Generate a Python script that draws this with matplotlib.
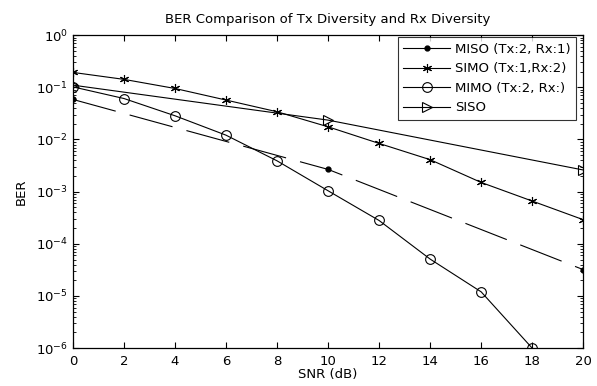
import numpy as np
import matplotlib
matplotlib.use('Agg')
import matplotlib.pyplot as plt
from matplotlib.lines import Line2D
from matplotlib.ticker import LogLocator, NullFormatter

plt.rcParams['font.family'] = ['DejaVu Sans']
plt.rcParams['mathtext.fontset'] = 'dejavusans'
plt.rcParams['mathtext.default'] = 'regular'

# values
snr = [0, 2, 4, 6, 8, 10, 12, 14, 16, 18, 20]
snr_miso = [0, 10, 20]
ber_miso = [0.0586, 0.00267, 3.2e-5]
ber_simo = [0.193, 0.142, 0.095, 0.057, 0.034, 0.0175, 0.0084, 0.0041, 0.0015, 6.6e-4, 2.9e-4]
snr_mimo = [0, 2, 4, 6, 8, 10, 12, 14, 16, 18]
ber_mimo = [0.102, 0.061, 0.0285, 0.0121, 0.0039, 0.00104, 2.8e-4, 5.1e-5, 1.2e-5, 1e-6]
snr_siso = [0, 10, 20]
ber_siso = [0.11, 0.0235, 0.0026]

fs = 9.5
fig = plt.figure(figsize=(5.97, 3.86), dpi=100)
ax = fig.add_axes([0.122, 0.098, 0.855, 0.811])

lw = 0.8
ax.semilogy(snr_miso, ber_miso, color='k', lw=lw, linestyle=(0, (40, 13)),
            marker='o', markersize=3.5, markerfacecolor='k')
ax.semilogy(snr, ber_simo, color='k', lw=lw, marker=(6, 2, 0), markersize=6.5,
            markeredgewidth=0.8, label='SIMO (Tx:1,Rx:2)')
ax.semilogy(snr_mimo, ber_mimo, color='k', lw=lw, marker='o', markersize=7,
            markerfacecolor='none', markeredgewidth=0.8, label='MIMO (Tx:2, Rx:)')
ax.semilogy(snr_siso, ber_siso, color='k', lw=lw, marker='>', markersize=7,
            markerfacecolor='none', markeredgewidth=0.8, label='SISO')

# legend shows MISO with a solid line
miso_handle = Line2D([], [], color='k', lw=lw, marker='o', markersize=3.5, markerfacecolor='k')
handles, labels = ax.get_legend_handles_labels()
leg = ax.legend([miso_handle] + handles, ['MISO (Tx:2, Rx:1)'] + labels,
                loc='upper right', bbox_to_anchor=(0.988, 0.997), fontsize=fs,
                frameon=True, fancybox=False, edgecolor='k', handlelength=3.6,
                borderaxespad=0.1, labelspacing=0.5, handletextpad=0.35, borderpad=0.4)
leg.get_frame().set_linewidth(0.8)

ax.set_xlim(0, 20)
ax.set_ylim(1e-6, 1)
ax.set_xticks(np.arange(0, 21, 2))
ax.yaxis.set_major_locator(LogLocator(base=10, numticks=10))
ax.yaxis.set_minor_locator(LogLocator(base=10, subs=np.arange(2, 10), numticks=20))
ax.yaxis.set_minor_formatter(NullFormatter())
ax.tick_params(which='both', direction='in', top=True, right=True, labelsize=fs)
ax.tick_params(which='major', length=4, width=0.8)
ax.tick_params(axis='x', which='major', pad=5)
ax.tick_params(which='minor', length=2, width=0.6, labelleft=False, labelbottom=False)
for s in ax.spines.values():
    s.set_linewidth(0.9)

ax.set_title('BER Comparison of Tx Diversity and Rx Diversity', fontsize=fs, pad=9)
ax.set_xlabel('SNR (dB)', fontsize=fs, labelpad=0)
ax.set_ylabel('BER', fontsize=fs, labelpad=6)

fig.savefig('out.png', dpi=100)
